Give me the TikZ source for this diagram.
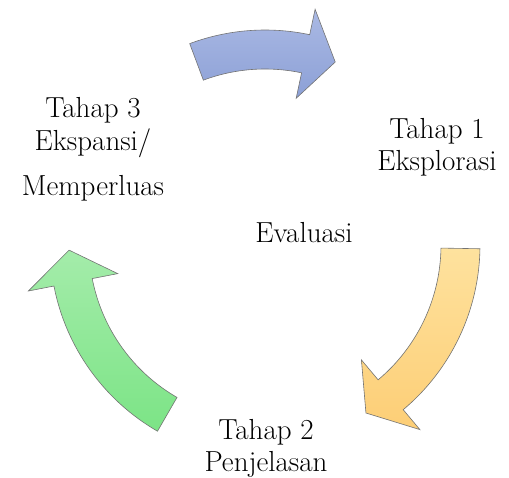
\documentclass[tikz,border=0pt]{standalone}
\definecolor{bluetop}{RGB}{170,185,228}
\definecolor{bluebot}{RGB}{140,160,214}
\definecolor{orangetop}{RGB}{254,226,158}
\definecolor{orangebot}{RGB}{253,206,118}
\definecolor{greentop}{RGB}{164,236,170}
\definecolor{greenbot}{RGB}{124,228,134}
\begin{document}
\begin{tikzpicture}[x=1pt, y=1pt,
    cyclearrow/.style={draw=black!55, line width=0.6pt, line join=miter},
    stagetext/.style={font=\rmfamily\fontsize{29}{31}\selectfont, align=center, anchor=base, inner sep=0pt}]
    \useasboundingbox (-265, -232) rectangle (244, 245);

    % stages (anchored at the baseline of the last line)
    \node[stagetext] (tahap1) at (172, 75) {Tahap 1\\Eksplorasi};
    \node[stagetext] (tahap2) at (1, -226) {Tahap 2\\[1pt]Penjelasan};
    \node[stagetext] (tahap3) at (-172, 50) {Tahap 3\\[2pt]Ekspansi/\\[14pt]Memperluas};
    \node[stagetext] (evaluasi) at (39, 3) {Evaluasi};

    % arrows (tail, base of head, tip)
    \draw[cyclearrow, top color=bluetop, bottom color=bluebot]
        (110.5:215) arc[start angle=110.5, end angle=78, radius=215]
        -- (78:241) -- (69:196) -- (78:150) -- (78:176)
        arc[start angle=78, end angle=110.5, radius=176] -- cycle;
    \draw[cyclearrow, top color=orangetop, bottom color=orangebot]
        (-1:215) arc[start angle=-1, end angle=-50, radius=215]
        -- (-50:241) -- (-59:196) -- (-50:150) -- (-50:176)
        arc[start angle=-50, end angle=-1, radius=176] -- cycle;
    \draw[cyclearrow, top color=greentop, bottom color=greenbot]
        (240:215) arc[start angle=240, end angle=191, radius=215]
        -- (191:241) -- (181.5:196) -- (191:150) -- (191:176)
        arc[start angle=191, end angle=240, radius=176] -- cycle;
\end{tikzpicture}
\end{document}
